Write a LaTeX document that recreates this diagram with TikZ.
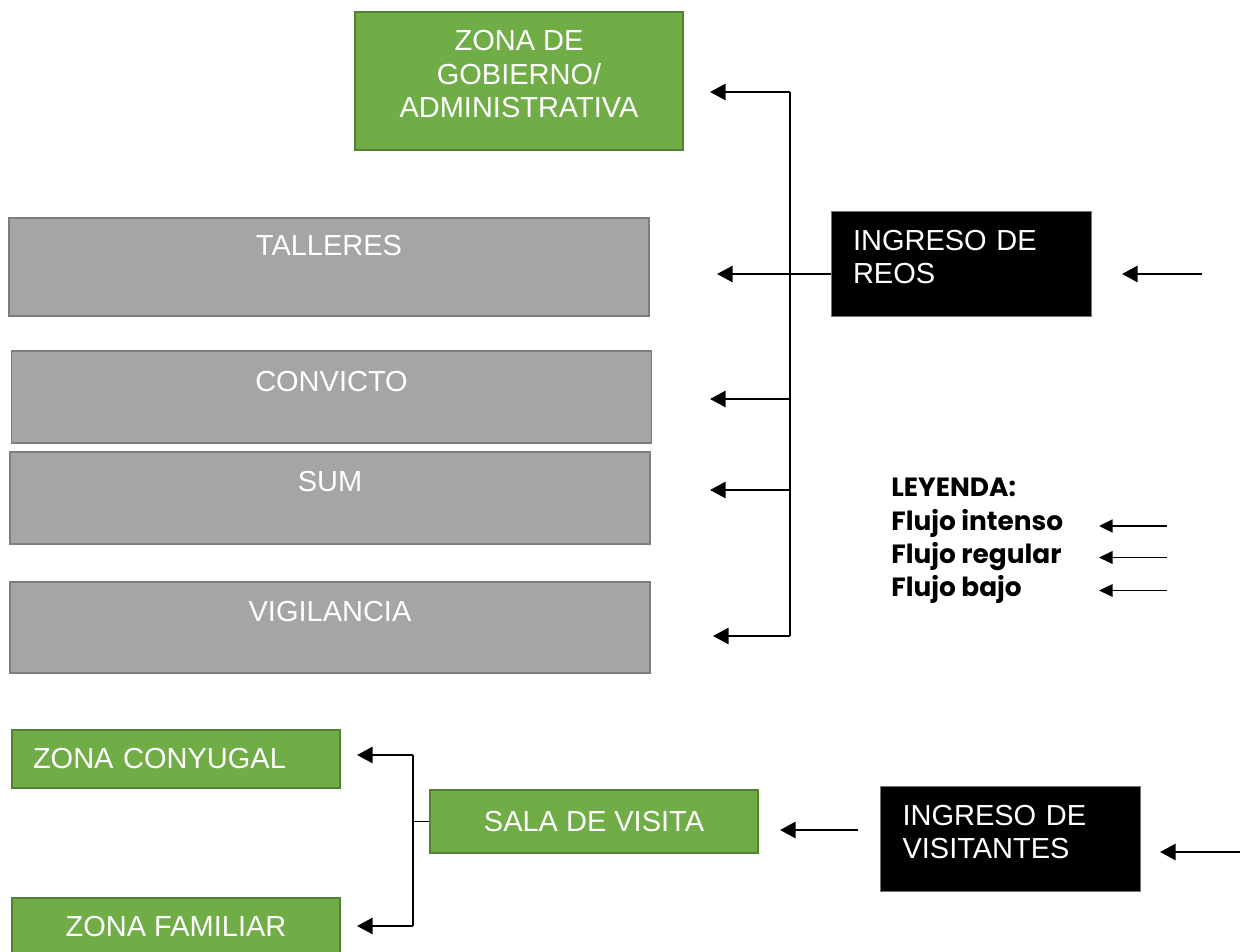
\documentclass[tikz,border=0pt]{standalone}
\usepackage{fontspec}
\setmainfont{Liberation Sans}
\newfontfamily\leyendafont{Poppins}
\usetikzlibrary{arrows.meta, positioning, calc}
\definecolor{VerdeZona}{RGB}{112, 173, 71}
\definecolor{VerdeBorde}{RGB}{84, 130, 53}
\definecolor{GrisZona}{RGB}{165, 165, 165}
\definecolor{GrisBorde}{RGB}{125, 125, 125}

\begin{document}
\begin{tikzpicture}[x=0.02cm, y=-0.02cm,
        zona/.style={rectangle, draw=VerdeBorde, fill=VerdeZona, line width=0.9pt, text=white, minimum width=6.56cm, font=\fontsize{16.5}{19}\selectfont},
        gris/.style={rectangle, draw=GrisBorde, fill=GrisZona, line width=0.9pt, text=white, inner sep=0pt, minimum width=12.8cm, font=\fontsize{16.5}{19}\selectfont},
        ingreso/.style={rectangle, draw=black!55, fill=black, line width=0.5pt, text=white, minimum width=5.2cm, minimum height=2.1cm, text width=4.32cm, inner xsep=0.44cm, text depth=0.93cm, align=left, font=\fontsize{16.5}{19}\selectfont},
        flujo/.style={-{Triangle[length=0.31cm, width=0.32cm]}, line width=1.4pt},
        linea/.style={line width=0.75pt},
        leyenda/.style={anchor=base west, inner sep=0pt, font=\leyendafont\bfseries\fontsize{15}{18}\selectfont},
        muestra/.style={-{Triangle[length=0.27cm, width=0.25cm]}}
    ]
        \useasboundingbox (0, 0) rectangle (1251, 952);

        % Zona de gobierno
        \node[zona, minimum height=2.76cm, text depth=0.28cm, align=center] (gobierno) at (519, 81) {ZONA DE\\GOBIERNO/\\ADMINISTRATIVA};

        % Zonas de reos
        \node[gris, text height=0.76cm, text depth=1.2cm] (talleres) at (329, 267) {TALLERES};
        \node[gris, text height=0.81cm, text depth=1.03cm] (convicto) at (331.5, 397) {CONVICTO};
        \node[gris, text height=0.79cm, text depth=1.05cm] (sum) at (330, 498) {SUM};
        \node[gris, text height=0.79cm, text depth=1.03cm] (vigilancia) at (330, 627.5) {VIGILANCIA};

        % Ingreso de reos
        \node[ingreso] (reos) at (961, 263.5) {INGRESO DE\\REOS};
        \coordinate (entradareos) at (1202, 274);
        \coordinate (llegadareos) at (1122, 274);
        \draw[flujo] (entradareos) -- (llegadareos);

        % Reparto hacia las zonas
        \coordinate (ramagob) at (790, 92);
        \coordinate (ramataller) at (790, 274);
        \coordinate (ramaconv) at (790, 399);
        \coordinate (ramasum) at (790, 490);
        \coordinate (ramavig) at (790, 636);
        \coordinate (fingob) at (710, 92);
        \coordinate (fintaller) at (717, 274);
        \coordinate (finconv) at (710, 399);
        \coordinate (finsum) at (710, 490);
        \coordinate (finvig) at (713, 636);
        \draw[linea] (ramagob) -- (ramavig);
        \draw[linea] (reos.west |- ramataller) -- (ramataller);
        \draw[flujo] (ramagob) -- (fingob);
        \draw[flujo] (ramataller) -- (fintaller);
        \draw[flujo] (ramaconv) -- (finconv);
        \draw[flujo] (ramasum) -- (finsum);
        \draw[flujo] (ramavig) -- (finvig);

        % Leyenda
        \node[leyenda] (leyenda) at (891, 497) {LEYENDA:};
        \node[leyenda] (intenso) at (891, 530.5) {Flujo intenso};
        \node[leyenda] (regular) at (891, 563.5) {Flujo regular};
        \node[leyenda] (bajo) at (891, 596.5) {Flujo bajo};
        \coordinate (intensoa) at (1167, 526);
        \coordinate (intensob) at (1099, 526);
        \coordinate (regulara) at (1167, 557.5);
        \coordinate (regularb) at (1099, 557.5);
        \coordinate (bajoa) at (1167, 590.5);
        \coordinate (bajob) at (1099, 590.5);
        \draw[muestra, line width=1.7pt] (intensoa) -- (intensob);
        \draw[muestra, line width=1.1pt] (regulara) -- (regularb);
        \draw[muestra, line width=0.75pt] (bajoa) -- (bajob);

        % Visitas
        \node[zona, minimum height=1.16cm, text width=5.72cm, inner xsep=0.42cm, align=left] (conyugal) at (176, 759) {ZONA CONYUGAL};
        \node[zona, minimum height=1.16cm] (familiar) at (176, 927) {ZONA FAMILIAR};
        \node[zona, minimum height=1.26cm] (sala) at (594, 821.5) {SALA DE VISITA};
        \node[ingreso] (visitantes) at (1010.5, 838.5) {INGRESO DE\\VISITANTES};
        \coordinate (entradavis) at (1240, 852);
        \coordinate (llegadavis) at (1160, 852);
        \coordinate (salidavis) at (858, 830);
        \coordinate (llegadasala) at (780, 830);
        \draw[flujo] (entradavis) -- (llegadavis);
        \draw[flujo] (salidavis) -- (llegadasala);

        % Reparto desde la sala
        \coordinate (ramaconyugal) at (413, 755);
        \coordinate (ramafamiliar) at (413, 926);
        \coordinate (finconyugal) at (357, 755);
        \coordinate (finfamiliar) at (357, 926);
        \draw[linea] (ramaconyugal) -- (ramafamiliar);
        \draw[linea] (sala.west) -- (sala.west -| ramaconyugal);
        \draw[flujo] (ramaconyugal) -- (finconyugal);
        \draw[flujo] (ramafamiliar) -- (finfamiliar);
    \end{tikzpicture}
\end{document}
